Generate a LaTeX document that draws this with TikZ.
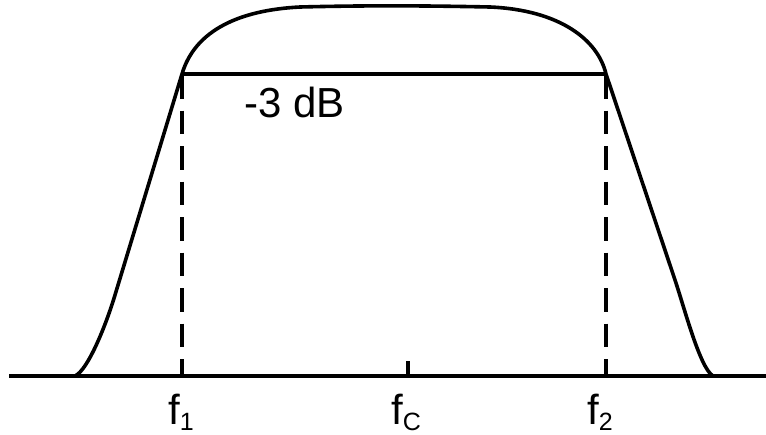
\documentclass[tikz,border=0pt]{standalone}
\usepackage{fontspec}
\setmainfont{Liberation Sans}
\begin{document}
\begin{tikzpicture}[x=1pt,y=-1pt,
  curve/.style={line width=3.6pt,line join=round},
  guide/.style={line width=3.2pt,dash pattern=on 23.5pt off 12pt},
  lbl/.style={inner sep=0pt,anchor=base west,font=\fontsize{42}{42}\selectfont}]
\useasboundingbox (0,0) rectangle (766,434);
% key points
\coordinate (a0) at (9,376);
\coordinate (a1) at (766,376);
\coordinate (lf) at (75,376);
\coordinate (p1) at (182,74);
\coordinate (p2) at (606,74);
\coordinate (rf) at (713,376);
\coordinate (d1) at (182,75);
\coordinate (d2) at (606,75);
\coordinate (b1) at (182,376);
\coordinate (b2) at (606,376);
\coordinate (tc0) at (408,361);
\coordinate (tc1) at (408,376);
% axis
\draw[curve] (a0) -- (a1);
% response curve
\draw[curve] (lf) .. controls (88,370) and (106,325) .. (115,295) -- (p1)
  .. controls (195,30) and (240,10) .. (300,7)
  .. controls (380,5) and (440,6) .. (490,7)
  .. controls (560,10) and (598,40) .. (p2)
  -- (675,280) .. controls (685,310) and (700,368) .. (rf);
% -3 dB line
\draw[curve] (p1) -- (p2);
% dashed markers
\draw[guide] (d1) -- (b1);
\draw[guide] (d2) -- (b2);
% fc tick
\draw[curve] (tc0) -- (tc1);
% labels
\node[lbl] (db) at (244,117) {-3 dB};
\node[lbl] (f1) at (168,424) {f\raisebox{-6pt}{\fontsize{25}{25}\selectfont 1}};
\node[lbl] (fc) at (391,424) {f\raisebox{-6pt}{\fontsize{25}{25}\selectfont C}};
\node[lbl] (f2) at (587,424) {f\raisebox{-6pt}{\fontsize{25}{25}\selectfont 2}};
\end{tikzpicture}
\end{document}
